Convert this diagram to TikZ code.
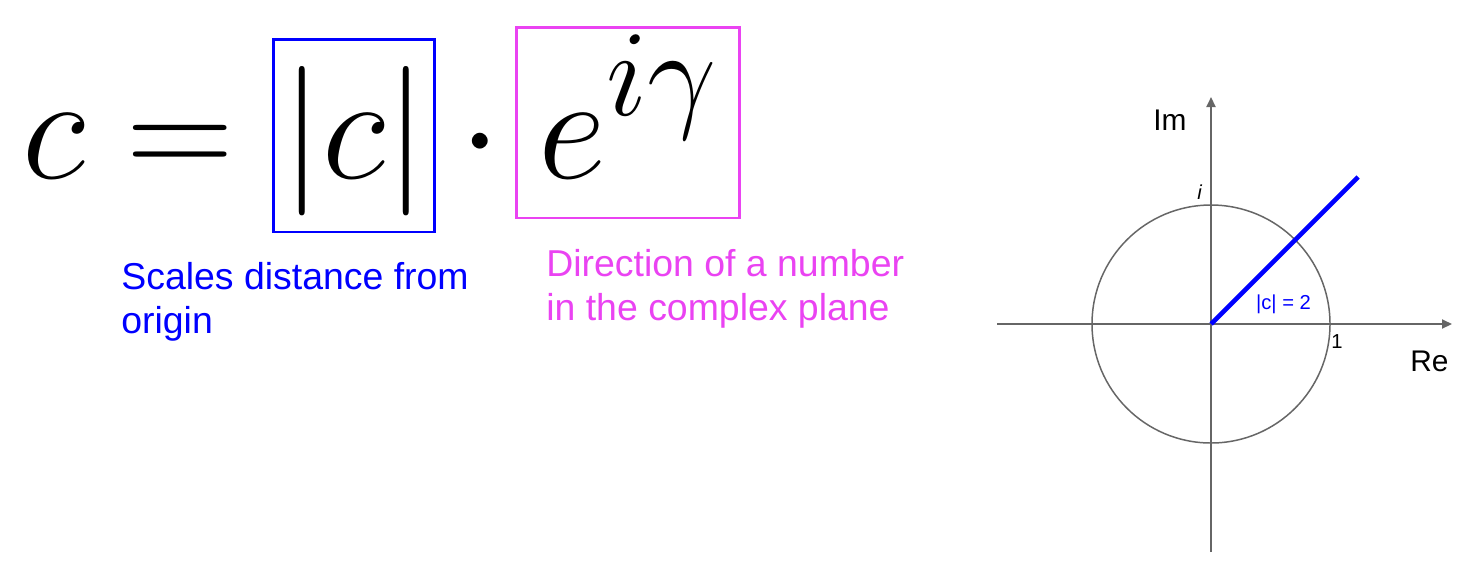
\RequirePackage{fix-cm}
\documentclass[tikz,border=0pt]{standalone}
\usepackage[no-math]{fontspec}
\usepackage{xcolor}
\usetikzlibrary{arrows.meta}
\newfontfamily\labelfont{Liberation Sans}
\definecolor{planegray}{RGB}{102,102,102}
\definecolor{dirmagenta}{RGB}{234,67,242}

\begin{document}
\begin{tikzpicture}[
x=0.02cm, y=-0.02cm,
formula/.style={inner sep=0pt, font=\fontsize{85}{100}\selectfont},
absbox/.style={
    formula,
    draw=blue,
    line width=1.7pt,
    inner xsep=0.16cm,
    text height=2.78cm,
    text depth=1.08cm
},
dirbox/.style={
    formula,
    draw=dirmagenta,
    line width=1.7pt,
    inner xsep=0.44cm,
    text height=3.02cm,
    text depth=0.8cm
},
note/.style={align=left, anchor=base west, inner sep=0pt, font=\labelfont\fontsize{21.3}{24.5}\selectfont},
axis/.style={draw=planegray, line width=1.1pt, -{Triangle[length=0.2cm, width=0.18cm]}},
axislabel/.style={anchor=base west, inner sep=0pt, font=\labelfont\fontsize{17}{20}\selectfont},
small/.style={inner sep=0pt, font=\labelfont\fontsize{11.5}{13}\selectfont}
]
\useasboundingbox (0,0) rectangle (1470,576);

% the formula
\node[formula, anchor=base west] (lhs) at (22,178) {$c=$};
\node[absbox, anchor=base] (modulus) at (354,178) {$|c|$};
\node[formula, anchor=base] (dot) at (480,178) {$\cdot$};
\node[dirbox, anchor=base] (phase) at (628,178) {$e^{\raisebox{0.16cm}{\fontsize{70}{80}\selectfont$i\gamma$}}$};

% notes under the boxes (base = last line)
\node[note, blue] (modnote) at (121,333) {Scales distance from\\origin};
\node[note, dirmagenta] (dirnote) at (546,320) {Direction of a number\\in the complex plane};

% complex plane
\coordinate (O) at (1211,324);
\coordinate (reW) at (997,324);
\coordinate (reE) at (1452,324);
\coordinate (imS) at (1211,552);
\coordinate (imN) at (1211,97);
\coordinate (ctip) at (1358,177);

\draw[axis] (reW) -- (reE);
\draw[axis] (imS) -- (imN);
\draw[planegray, line width=0.85pt] (O) circle[radius=119];
\draw[blue, line width=2.6pt] (O) -- (ctip);

\node[axislabel] (im) at (1153,130) {Im};
\node[axislabel] (re) at (1410,371) {Re};
\node[small, anchor=base west] (unit) at (1197,199) {\itshape i};
\node[small, anchor=base west] (one) at (1331,348) {1};
\node[small, blue, anchor=base] (modlabel) at (1283.5,309) {|c| = 2};

\end{tikzpicture}
\end{document}
